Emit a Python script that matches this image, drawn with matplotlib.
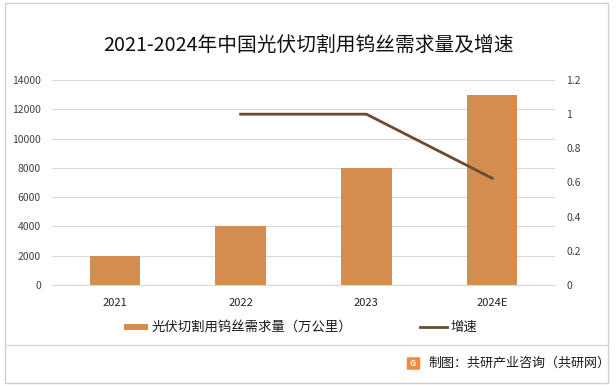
import matplotlib
matplotlib.use("Agg")
import matplotlib.pyplot as plt
from matplotlib.patches import Rectangle, FancyBboxPatch
from matplotlib.lines import Line2D

plt.rcParams['font.family'] = ['Noto Sans CJK SC', 'DejaVu Sans']

categories = ['2021', '2022', '2023', '2024E']
demand = [2000, 4000, 8000, 13000]
growth_x = ['2022', '2023', '2024E']
growth = [1.0, 1.0, 0.625]
left_ticks = [0, 2000, 4000, 6000, 8000, 10000, 12000, 14000]
right_ticks = [0, 0.2, 0.4, 0.6, 0.8, 1.0, 1.2]
right_labels = ['0', '0.2', '0.4', '0.6', '0.8', '1', '1.2']

bar_color = '#D58C4F'
line_color = '#6B4A33'
W, H = 616, 386
fig = plt.figure(figsize=(W/100, H/100), dpi=100)

# outer border
fig.patches.append(Rectangle((5/W, 3/H), (608-5)/W, (383-3)/H, transform=fig.transFigure,
                             fill=False, edgecolor='#D0D0D0', linewidth=1))
# bottom separator
fig.lines.append(Line2D([5/W, 608/W], [1-345/H, 1-345/H], transform=fig.transFigure,
                        color='#D9D9D9', linewidth=1))

ax = fig.add_axes([52/W, 1-285/H, (555-52)/W, (285-80)/H])
x = list(range(len(categories)))
ax.bar(x, demand, width=0.4, color=bar_color, zorder=2)
ax.set_xlim(-0.5, len(categories)-0.5)
ax.set_ylim(0, 14000)
ax.set_yticks(left_ticks)
ax.set_yticklabels([str(t) for t in left_ticks], fontsize=7.5, color='#404040')
ax.set_xticks(x)
ax.set_xticklabels(categories, fontsize=8, color='#222222')
ax.tick_params(axis='both', length=0, pad=8)
ax.tick_params(axis='x', pad=9)
ax.grid(axis='y', color='#D9D9D9', linewidth=0.8, zorder=0)
for s in ax.spines.values():
    s.set_visible(False)
ax.spines['bottom'].set_visible(True)
ax.spines['bottom'].set_color('#D9D9D9')

ax2 = ax.twinx()
gx = [categories.index(c) for c in growth_x]
ax2.plot(gx, growth, color=line_color, linewidth=2, zorder=3)
ax2.set_ylim(0, 1.2)
ax2.set_yticks(right_ticks)
ax2.set_yticklabels(right_labels, fontsize=7.5, color='#404040')
ax2.tick_params(axis='y', length=0, pad=8)
for s in ax2.spines.values():
    s.set_visible(False)

fig.text(0.5, 1-46/H, '2021-2024年中国光伏切割用钨丝需求量及增速', ha='center', va='center',
         fontsize=14.2, color='#111111')

# legend
fig.patches.append(Rectangle((124/W, 1-330/H), 24/W, 6/H, transform=fig.transFigure,
                             facecolor=bar_color, edgecolor='none'))
fig.text(152/W, 1-327/H, '光伏切割用钨丝需求量（万公里）', ha='left', va='center', fontsize=9.6, color='#1A1A1A')
fig.lines.append(Line2D([420/W, 447/W], [1-327/H, 1-327/H], transform=fig.transFigure,
                        color=line_color, linewidth=2))
fig.text(450/W, 1-327/H, '增速', ha='left', va='center', fontsize=9.6, color='#1A1A1A')

# source
fig.patches.append(FancyBboxPatch((408/W, 1-369/H), 11/W, 11/H, transform=fig.transFigure,
                                  boxstyle='round,pad=0.002', facecolor='#F08A3C', edgecolor='none'))
fig.text(412.5/W, 1-363.5/H, 'G', ha='center', va='center', fontsize=6, color='white', fontweight='bold')
fig.text(428/W, 1-363/H, '制图：共研产业咨询（共研网）', ha='left', va='center', fontsize=9.4, color='#1A1A1A')

fig.savefig('out.png', dpi=100)
